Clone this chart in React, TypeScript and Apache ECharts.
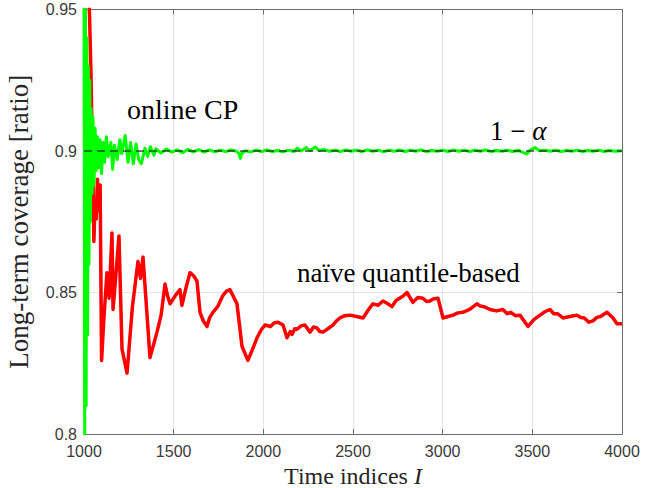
import React, { useEffect, useRef } from "react";
import * as echarts from "echarts";

// x = time index, y = long-term coverage
const naiveX = [1000, 1020, 1030, 1038, 1045, 1050, 1055, 1062, 1068, 1075, 1082, 1090, 1098, 1110, 1128, 1140, 1156, 1162, 1180, 1195, 1212, 1240, 1270, 1301, 1315, 1329, 1368, 1407, 1430, 1452, 1465, 1480, 1510, 1535, 1546, 1570, 1591, 1610, 1630, 1647, 1665, 1686, 1700, 1719, 1745, 1775, 1795, 1814, 1853, 1881, 1914, 1940, 1965, 1990, 2009, 2040, 2060, 2082, 2110, 2132, 2150, 2160, 2175, 2188, 2210, 2232, 2260, 2280, 2299, 2315, 2333, 2360, 2388, 2405, 2427, 2455, 2483, 2520, 2556, 2585, 2611, 2640, 2667, 2690, 2717, 2740, 2760, 2780, 2801, 2834, 2860, 2890, 2910, 2929, 2950, 2974, 3002, 3030, 3058, 3085, 3113, 3150, 3191, 3210, 3230, 3264, 3300, 3336, 3360, 3380, 3405, 3431, 3476, 3510, 3543, 3570, 3598, 3620, 3640, 3671, 3710, 3749, 3770, 3790, 3815, 3838, 3860, 3880, 3916, 3950, 3972, 4000];
const naiveY = [1.0, 0.975, 0.95, 0.93, 0.906, 0.89, 0.868, 0.882, 0.876, 0.89, 0.879, 0.888, 0.826, 0.84, 0.857, 0.848, 0.871, 0.844, 0.858, 0.870, 0.830, 0.8215, 0.845, 0.861, 0.855, 0.8625, 0.827, 0.836, 0.842, 0.853, 0.849, 0.846, 0.849, 0.851, 0.8455, 0.852, 0.857, 0.856, 0.854, 0.843, 0.840, 0.838, 0.841, 0.843, 0.845, 0.849, 0.8505, 0.851, 0.846, 0.831, 0.826, 0.830, 0.834, 0.837, 0.8385, 0.8380, 0.8392, 0.8395, 0.8385, 0.834, 0.8362, 0.8352, 0.8372, 0.837, 0.8382, 0.8385, 0.836, 0.8378, 0.8375, 0.8362, 0.836, 0.8372, 0.8385, 0.8398, 0.841, 0.8418, 0.842, 0.8415, 0.841, 0.8438, 0.846, 0.8455, 0.847, 0.8462, 0.845, 0.8472, 0.8480, 0.8488, 0.850, 0.8465, 0.8482, 0.848, 0.8468, 0.847, 0.8478, 0.848, 0.841, 0.8415, 0.842, 0.8428, 0.843, 0.8440, 0.846, 0.8452, 0.8450, 0.844, 0.8435, 0.844, 0.8425, 0.8430, 0.8418, 0.842, 0.838, 0.8405, 0.842, 0.8432, 0.844, 0.8425, 0.8425, 0.841, 0.8415, 0.842, 0.8412, 0.8410, 0.8395, 0.840, 0.8412, 0.8415, 0.843, 0.8410, 0.839, 0.839];

const onlineX = [1000, 1004, 1008, 1012, 1016, 1020, 1024, 1028, 1032, 1036, 1040, 1045, 1050, 1056, 1062, 1068, 1075, 1082, 1090, 1098, 1106, 1115, 1125, 1135, 1150, 1160, 1170, 1185, 1200, 1210, 1230, 1245, 1260, 1275, 1290, 1305, 1320, 1340, 1355, 1370, 1390, 1400, 1430, 1460, 1490, 1520, 1550, 1580, 1610, 1640, 1670, 1700, 1730, 1760, 1790, 1820, 1850, 1865, 1872, 1880, 1900, 1930, 1960, 1990, 2020, 2050, 2080, 2110, 2140, 2170, 2190, 2210, 2240, 2260, 2290, 2310, 2340, 2370, 2400, 2430, 2460, 2490, 2520, 2550, 2580, 2610, 2640, 2670, 2700, 2730, 2760, 2790, 2820, 2850, 2880, 2910, 2940, 2970, 3000, 3030, 3060, 3090, 3120, 3150, 3180, 3210, 3240, 3270, 3300, 3330, 3360, 3390, 3420, 3450, 3470, 3490, 3515, 3540, 3570, 3600, 3630, 3660, 3690, 3720, 3750, 3780, 3810, 3840, 3870, 3900, 3930, 3960, 4000];
const onlineY = [0.96, 0.80, 0.955, 0.81, 0.94, 0.835, 0.93, 0.86, 0.925, 0.875, 0.915, 0.885, 0.912, 0.888, 0.908, 0.893, 0.905, 0.894, 0.904, 0.892, 0.903, 0.896, 0.905, 0.898, 0.903, 0.8935, 0.902, 0.897, 0.904, 0.899, 0.9055, 0.896, 0.903, 0.8955, 0.9025, 0.897, 0.8955, 0.901, 0.898, 0.9015, 0.8985, 0.9008, 0.8993, 0.9007, 0.8996, 0.9004, 0.8994, 0.9006, 0.8997, 0.9005, 0.8996, 0.9004, 0.8997, 0.9003, 0.8998, 0.9004, 0.8999, 0.899, 0.8974, 0.8992, 0.9001, 0.8997, 0.9003, 0.8998, 0.9004, 0.8998, 0.9002, 0.8997, 0.9003, 0.8998, 0.901, 0.9, 0.9012, 0.9001, 0.9014, 0.9002, 0.9005, 0.8999, 0.9003, 0.8998, 0.9004, 0.8999, 0.9003, 0.8998, 0.9004, 0.8999, 0.9003, 0.8997, 0.9003, 0.8999, 0.9004, 0.8998, 0.9003, 0.8999, 0.9004, 0.8998, 0.9002, 0.8999, 0.9003, 0.8998, 0.9004, 0.8999, 0.9003, 0.8998, 0.9003, 0.8999, 0.9004, 0.8998, 0.9002, 0.8999, 0.9003, 0.8998, 0.9002, 0.8994, 0.899, 0.9004, 0.9012, 0.9001, 0.9003, 0.8999, 0.9003, 0.8998, 0.9002, 0.8999, 0.9003, 0.8998, 0.9002, 0.8999, 0.9003, 0.8998, 0.9002, 0.8999, 0.9001];

const targetX = [1000, 4000];
const targetY = [0.9, 0.9];

const xTicks = { min: 1000, max: 4000, interval: 500 };
const yTicks = { min: 0.8, max: 0.95, interval: 0.05 };

const SERIF = "'Liberation Serif', 'Times New Roman', serif";
const SANS = "'Liberation Sans', Arial, sans-serif";
const AXIS_COLOR = "#6e6e6e";
const LABEL_COLOR = "#3a3a3a";

const zip = (xs: number[], ys: number[]) => xs.map((x, i) => [x, ys[i]]);

export default function App() {
  const ref = useRef<HTMLDivElement>(null);
  useEffect(() => {
    if (!ref.current) return;
    const chart = echarts.init(ref.current, undefined, { renderer: "svg" });
    const baseX = {
      type: "value" as const,
      min: xTicks.min,
      max: xTicks.max,
      interval: xTicks.interval,
    };
    const baseY = {
      type: "value" as const,
      min: yTicks.min,
      max: yTicks.max,
      interval: yTicks.interval,
    };
    chart.setOption({
      animation: false,
      backgroundColor: "#ffffff",
      grid: { left: 84, right: 37, top: 9.5, bottom: 54, outerBoundsMode: "none" },
      xAxis: [
        {
          ...baseX,
          position: "bottom",
          name: "{t|Time indices }{i|I}",
          nameLocation: "middle",
          nameGap: 28,
          nameTextStyle: {
            rich: {
              t: { fontFamily: SERIF, fontSize: 24, lineHeight: 24, color: "#262626" },
              i: { fontFamily: SERIF, fontSize: 24, lineHeight: 24, fontStyle: "italic", color: "#262626" },
            },
          },
          axisLine: { show: true, lineStyle: { color: AXIS_COLOR, width: 1 } },
          axisTick: { show: true, inside: true, length: 5, lineStyle: { color: AXIS_COLOR } },
          axisLabel: {
            fontFamily: SANS,
            fontSize: 16,
            color: LABEL_COLOR,
            margin: 9,
            formatter: (v: number) => String(v),
          },
          splitLine: { show: true, lineStyle: { color: "#e3e3e3", width: 1 } },
        },
        {
          ...baseX,
          position: "top",
          axisLine: { show: true, onZero: false, lineStyle: { color: AXIS_COLOR, width: 1 } },
          axisTick: { show: true, inside: true, length: 5, lineStyle: { color: AXIS_COLOR } },
          axisLabel: { show: false },
          splitLine: { show: false },
        },
      ],
      yAxis: [
        {
          ...baseY,
          position: "left",
          name: "Long-term coverage [ratio]",
          nameLocation: "middle",
          nameGap: 52,
          nameTextStyle: { fontFamily: SERIF, fontSize: 27, color: "#262626" },
          axisLine: { show: true, lineStyle: { color: AXIS_COLOR, width: 1 } },
          axisTick: { show: true, inside: true, length: 5, lineStyle: { color: AXIS_COLOR } },
          axisLabel: { fontFamily: SANS, fontSize: 16, color: LABEL_COLOR, margin: 7 },
          splitLine: { show: true, lineStyle: { color: "#e3e3e3", width: 1 } },
        },
        {
          ...baseY,
          position: "right",
          axisLine: { show: true, onZero: false, lineStyle: { color: AXIS_COLOR, width: 1 } },
          axisTick: { show: true, inside: true, length: 5, lineStyle: { color: AXIS_COLOR } },
          axisLabel: { show: false },
          splitLine: { show: false },
        },
      ],
      series: [
        {
          type: "line",
          name: "naive",
          data: zip(naiveX, naiveY),
          showSymbol: false,
          symbol: "none",
          clip: true,
          lineStyle: { color: "#ff0000", width: 3.5, join: "round" },
          z: 2,
        },
        {
          type: "line",
          name: "online",
          data: zip(onlineX, onlineY),
          showSymbol: false,
          symbol: "none",
          clip: true,
          lineStyle: { color: "#00ff00", width: 3, join: "round" },
          z: 3,
        },
        {
          type: "line",
          name: "target",
          data: zip(targetX, targetY),
          showSymbol: false,
          symbol: "none",
          lineStyle: { color: "#000000", width: 1.2, type: [8, 5] },
          z: 4,
        },
      ],
      graphic: [
        {
          type: "text",
          left: 127,
          top: 95,
          style: { text: "online CP", fontFamily: SERIF, fontSize: 28, fill: "#000" },
          z: 10,
        },
        {
          type: "text",
          left: 297,
          top: 259,
          style: { text: "naïve quantile-based", fontFamily: SERIF, fontSize: 27, fill: "#000" },
          z: 10,
        },
        {
          type: "text",
          left: 490,
          top: 117,
          style: {
            text: "{n|1 − }{a|α}",
            rich: {
              n: { fontFamily: SERIF, fontSize: 27, fill: "#000" },
              a: { fontFamily: SERIF, fontSize: 27, fontStyle: "italic", fill: "#000" },
            },
          },
          z: 10,
        },
      ],
    });
    return () => chart.dispose();
  }, []);
  return (
    <div
      ref={ref}
      style={{ position: "fixed", left: 0, top: 0, width: 659, height: 488 }}
    />
  );
}
